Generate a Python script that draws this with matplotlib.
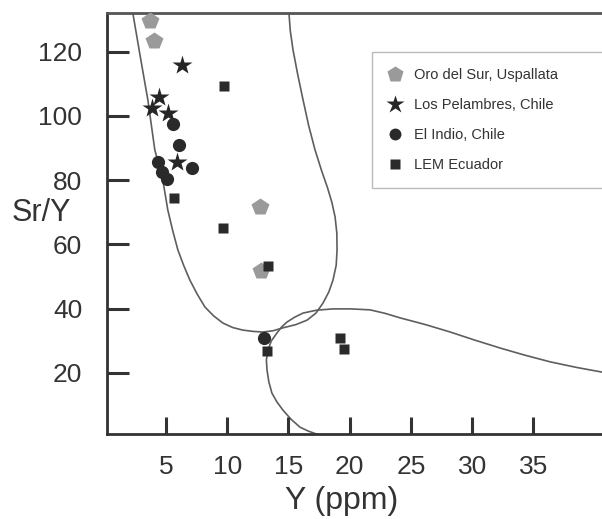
import numpy as np
import matplotlib.pyplot as plt

plt.rcParams['font.family'] = ['Liberation Sans', 'DejaVu Sans']

# Data (Y ppm, Sr/Y)
oro_x = [3.7, 4.0, 12.7, 12.75]
oro_y = [129.6, 123.4, 71.7, 51.6]

pel_x = [6.3, 4.4, 3.85, 5.2, 5.9]
pel_y = [115.9, 105.9, 102.5, 101.0, 85.7]

indio_x = [5.55, 6.05, 4.35, 4.65, 5.05, 7.1, 13.0]
indio_y = [97.5, 91.0, 85.7, 82.6, 80.4, 83.8, 30.8]

lem_x = [9.75, 5.65, 9.65, 13.3, 13.25, 19.2, 19.5]
lem_y = [109.3, 74.5, 65.1, 53.3, 26.8, 30.8, 27.4]

# field boundaries
adakite_x = [2.29, 2.9, 3.52, 4.09, 4.74, 5.15, 5.55, 5.97, 6.45, 6.95, 7.55, 8.18,
             8.9, 9.65, 10.45, 11.28, 12.1, 12.92, 13.75, 14.55, 15.6, 16.52, 17.25,
             17.82, 18.3, 18.64, 18.9, 18.97, 18.95, 18.81, 18.55, 18.2, 17.7,
             17.17, 16.65, 16.19, 15.75, 15.37, 15.15, 15.04]
adakite_y = [132.1, 118.5, 105.0, 89.4, 80.1, 70.7, 64.3, 58.3, 53.4, 48.9, 44.5, 40.5,
             37.7, 35.5, 34.1, 33.3, 32.9, 32.7, 33.1, 34.0, 35.0, 36.4, 38.6,
             41.7, 45.2, 48.9, 53.5, 58.3, 63.5, 68.5, 73.0, 77.5, 83.0,
             89.4, 97.0, 105.0, 113.0, 120.6, 126.5, 132.1]

arc_x = [17.33, 16.6, 15.94, 15.2, 14.55, 14.05, 13.65, 13.4, 13.25, 13.2, 13.33,
         13.6, 14.06, 14.45, 14.88, 15.5, 16.19, 17.3, 18.64, 20.1, 21.67, 22.9,
         24.12, 26.2, 28.21, 30.2, 32.3, 34.3, 36.39, 38.5, 40.64]
arc_y = [0.9, 1.9, 3.1, 5.6, 8.4, 11.0, 13.7, 17.2, 20.9, 24.0, 27.1,
         29.9, 32.4, 34.3, 35.8, 37.3, 38.6, 39.5, 39.9, 39.9, 39.6, 38.5,
         37.1, 35.0, 32.7, 30.2, 27.7, 25.5, 23.4, 21.7, 20.2]

yticks = [20, 40, 60, 80, 100, 120]
xticks = [5, 10, 15, 20, 25, 30, 35]

fig = plt.figure(figsize=(6.02, 5.19), dpi=100)
ax = fig.add_axes([0.178, 0.164, 0.822, 0.811])

ax.plot(adakite_x, adakite_y, color='#5e5e5e', lw=1.2, zorder=1)
ax.plot(arc_x, arc_y, color='#5e5e5e', lw=1.2, zorder=1)

ax.plot(oro_x, oro_y, 'p', color='#9a9a9a', ms=13, mec='none', label='Oro del Sur, Uspallata', zorder=3)
ax.plot(pel_x, pel_y, '*', color='#262626', ms=15, mec='none', label='Los Pelambres, Chile', zorder=3)
ax.plot(indio_x, indio_y, 'o', color='#2a2a2a', ms=9.5, mec='none', label='El Indio, Chile', zorder=3)
ax.plot(lem_x, lem_y, 's', color='#2a2a2a', ms=7.5, mec='none', label='LEM Ecuador', zorder=3)

ax.set_xlim(0.2, 40.6)
ax.set_ylim(1, 132)
ax.set_xticks(xticks)
ax.set_yticks(yticks)

ax.tick_params(axis='y', direction='in', length=16, width=2.2, color='#333333',
               labelsize=19, labelcolor='#333333', pad=18)
ax.tick_params(axis='x', direction='in', length=12, width=2.2, color='#333333',
               labelsize=19, labelcolor='#333333', pad=15)

ax.spines['right'].set_visible(False)
ax.spines['left'].set_linewidth(2)
ax.spines['left'].set_color('#333333')
ax.spines['bottom'].set_linewidth(2)
ax.spines['bottom'].set_color('#333333')
ax.spines['top'].set_linewidth(2)
ax.spines['top'].set_color('#555555')

ax.set_ylabel('Sr/Y', rotation=0, fontsize=22, color='#333333', ha='center', va='center')
ax.yaxis.set_label_coords(-0.133, 0.525)
ax.set_xlabel('Y (ppm)', fontsize=23, color='#333333', ha='center', va='center')
ax.xaxis.set_label_coords(0.473, -0.16)

leg = ax.legend(loc='upper left', bbox_to_anchor=(0.535, 0.5, 0.47, 0.407), mode='expand',
                fontsize=10.5, frameon=True, fancybox=False, edgecolor='#aaaaaa',
                borderpad=1.1, labelspacing=1.1, handlelength=1.0, handletextpad=0.8,
                numpoints=1, markerscale=0.9, borderaxespad=0)
leg.get_frame().set_linewidth(1)
for t in leg.get_texts():
    t.set_color('#333333')

fig.savefig('out.png', dpi=100)
